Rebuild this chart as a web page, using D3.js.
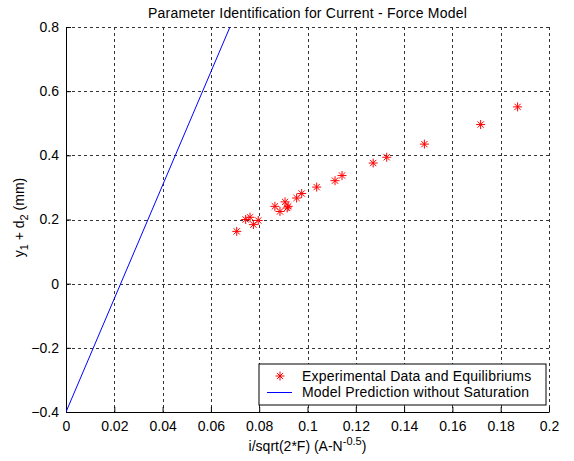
<!DOCTYPE html>
<html>
<head>
<meta charset="utf-8"/>
<title>Parameter Identification</title>
<style>
body { margin: 0; background: #fff; }
svg text { font-family: "Liberation Sans", Arial, sans-serif; fill: #000; }
.grid line { stroke: #333; stroke-dasharray: 3,3; stroke-width: 1; }
</style>
</head>
<body>
<svg width="574" height="461"></svg>
<script src="https://cdn.jsdelivr.net/npm/d3@7"></script>
<script>

var dataX = [0.0707, 0.0744, 0.0762, 0.0776, 0.0796, 0.0865, 0.0886, 0.0907, 0.0920, 0.0916,
             0.0955, 0.0976, 0.1038, 0.1114, 0.1143, 0.1272, 0.1328, 0.1484, 0.1717, 0.1870];
var dataY = [0.163, 0.200, 0.207, 0.184, 0.197, 0.241, 0.225, 0.255, 0.241, 0.236,
             0.267, 0.281, 0.301, 0.321, 0.337, 0.376, 0.394, 0.435, 0.496, 0.551];

// model prediction line (clipped at the top of the axes)
var modelX = [0, 0.0679];
var modelY = [-0.4, 0.8];

var xTicks = [0, 0.02, 0.04, 0.06, 0.08, 0.1, 0.12, 0.14, 0.16, 0.18, 0.2];
var yTicks = [-0.4, -0.2, 0, 0.2, 0.4, 0.6, 0.8];
var legendLabels = ["Experimental Data and Equilibriums", "Model Prediction without Saturation"];

var svg = d3.select("svg"),
    margin = {left: 66, right: 25, top: 27, bottom: 49},
    width = 574 - margin.left - margin.right,
    height = 461 - margin.top - margin.bottom;

var x = d3.scaleLinear().domain([0, 0.2]).range([0, width]);
var y = d3.scaleLinear().domain([-0.4, 0.8]).range([height, 0]);

var g = svg.append("g").attr("transform", "translate(" + margin.left + "," + margin.top + ")");

g.append("clipPath").attr("id", "clip")
  .append("rect").attr("width", width).attr("height", height);

// dashed grid
var grid = g.append("g").attr("class", "grid");
grid.selectAll(".gx").data(xTicks.slice(1)).enter().append("line")
    .attr("x1", function(d) { return Math.round(x(d)) + 0.5; })
    .attr("x2", function(d) { return Math.round(x(d)) + 0.5; })
    .attr("y1", 0).attr("y2", height);
grid.selectAll(".gy").data(yTicks.slice(1)).enter().append("line")
    .attr("y1", function(d) { return Math.round(y(d)) + 0.5; })
    .attr("y2", function(d) { return Math.round(y(d)) + 0.5; })
    .attr("x1", 0).attr("x2", width);

// axes
var xAxis = d3.axisBottom(x).tickValues(xTicks)
    .tickFormat(function(d) { return d3.format("")(+d.toFixed(2)); })
    .tickSizeInner(-5).tickSizeOuter(0).tickPadding(9);
var yAxis = d3.axisLeft(y).tickValues(yTicks)
    .tickFormat(function(d) { return d3.format("")(+d.toFixed(1)); })
    .tickSizeInner(-5).tickSizeOuter(0).tickPadding(7);

var gx = g.append("g").attr("transform", "translate(0," + height + ")").call(xAxis);
var gy = g.append("g").call(yAxis);
[gx, gy].forEach(function(a) {
  a.select(".domain").attr("stroke", "#000");
  a.selectAll(".tick line").attr("stroke", "#000");
  a.selectAll("text").style("font-size", "14px").attr("fill", "#000");
});

var plot = g.append("g").attr("clip-path", "url(#clip)");

// model line
var line = d3.line()
    .x(function(d) { return x(d[0]); })
    .y(function(d) { return y(d[1]); });
plot.append("path")
    .datum(d3.zip(modelX, modelY))
    .attr("d", line)
    .attr("fill", "none")
    .attr("stroke", "#0000ff")
    .attr("stroke-width", 1);

// asterisk marker
function star(r) {
  var d = r * 0.7;
  return "M" + (-r) + ",0L" + r + ",0M0," + (-r) + "L0," + r +
         "M" + (-d) + "," + (-d) + "L" + d + "," + d +
         "M" + (-d) + "," + d + "L" + d + "," + (-d);
}

g.selectAll(".pt").data(d3.zip(dataX, dataY)).enter().append("path")
    .attr("class", "pt")
    .attr("transform", function(d) { return "translate(" + x(d[0]) + "," + y(d[1]) + ")"; })
    .attr("d", star(4.5))
    .attr("stroke", "#ff0000")
    .attr("stroke-width", 1)
    .attr("fill", "none");

// title
svg.append("text")
    .attr("x", margin.left + width / 2).attr("y", 18)
    .attr("text-anchor", "middle")
    .style("font-size", "14px")
    .style("letter-spacing", "0.2px")
    .text("Parameter Identification for Current - Force Model");

// x label
var xl = svg.append("text")
    .attr("x", margin.left + width / 2).attr("y", 451)
    .attr("text-anchor", "middle")
    .style("font-size", "14px");
xl.append("tspan").text("i/sqrt(2*F) (A-N");
xl.append("tspan").attr("dy", -6).style("font-size", "11px").text("-0.5");
xl.append("tspan").attr("dy", 6).text(")");

// y label
var yl = svg.append("text")
    .attr("transform", "translate(24," + (margin.top + height / 2 - 2) + ") rotate(-90)")
    .attr("text-anchor", "middle")
    .style("font-size", "14px");
yl.append("tspan").text("y");
yl.append("tspan").attr("dy", 4).style("font-size", "11px").text("1");
yl.append("tspan").attr("dy", -4).text(" + d");
yl.append("tspan").attr("dy", 4).style("font-size", "11px").text("2");
yl.append("tspan").attr("dy", -4).text(" (mm)");

// legend
var lg = g.append("g").attr("transform", "translate(" + (259 - margin.left) + "," + (364 - margin.top) + ")");
lg.append("rect").attr("width", 287).attr("height", 41)
    .attr("fill", "#fff").attr("stroke", "#000").attr("stroke-width", 1);
lg.append("path").attr("d", star(4.5))
    .attr("transform", "translate(21,12)")
    .attr("stroke", "#ff0000").attr("fill", "none");
lg.append("line").attr("x1", 8).attr("x2", 33).attr("y1", 28.5).attr("y2", 28.5)
    .attr("stroke", "#0000ff");
lg.selectAll(".lt").data(legendLabels).enter().append("text")
    .attr("x", 43)
    .attr("y", function(d, i) { return 12 + i * 16.5; })
    .attr("dy", "0.35em")
    .style("font-size", "14px")
    .style("letter-spacing", "0.2px")
    .text(function(d) { return d; });

</script>
</body>
</html>
